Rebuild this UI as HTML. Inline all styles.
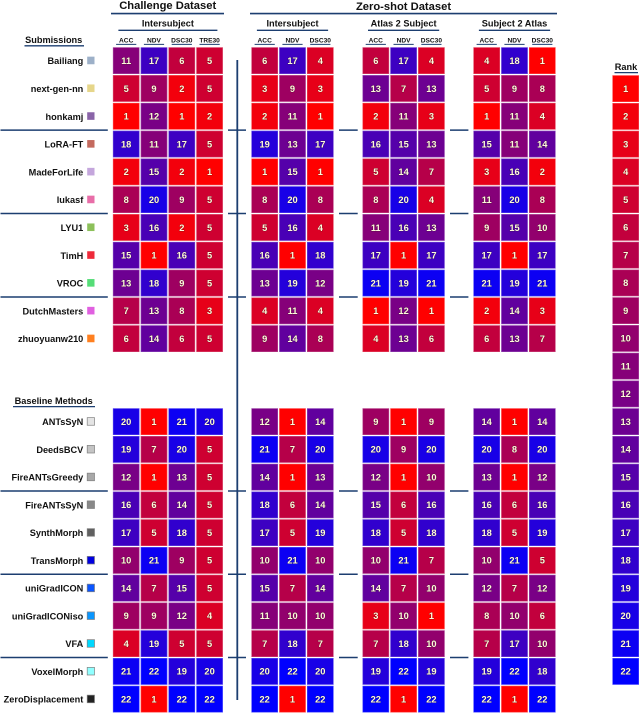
<!DOCTYPE html>
<html lang="en">
<head>
<meta charset="utf-8">
<title>Challenge and Zero-shot Dataset Rankings</title>
<style>
html,body{margin:0;padding:0;background:#fff;width:640px;height:714px;overflow:hidden}
svg{display:block;filter:blur(.3px)}
text{font-family:"Liberation Sans",sans-serif;font-weight:bold;fill:#111}
.cell-text{fill:#fdf9dc;stroke:rgba(40,30,10,.5);stroke-width:.7px;paint-order:stroke;font-size:9.3px;text-anchor:middle}
.head{text-anchor:middle}
</style>
</head>
<body>
<svg id="chart" width="640" height="714" viewBox="0 0 640 714" xmlns="http://www.w3.org/2000/svg"></svg>
<script>
const methods = ["Bailiang","next-gen-nn","honkamj","LoRA-FT","MadeForLife","lukasf","LYU1","TimH","VROC","DutchMasters","zhuoyuanw210","ANTsSyN","DeedsBCV","FireANTsGreedy","FireANTsSyN","SynthMorph","TransMorph","uniGradICON","uniGradICONiso","VFA","VoxelMorph","ZeroDisplacement"];
const methodColors = ["#9db0c8","#e6d68a","#8a64a8","#c46a5e","#c4a6dc","#e86ea8","#8cc05a","#ee2a3a","#55dd77","#e060e0","#ff8020","#e4e4e4","#c4c4c4","#a8a8a8","#888888","#606060","#0000e0","#0a55ff","#0a96ff","#00d8ff","#90ffff","#222222"];

const challengeAcc   = [11,5,1,18,2,8,3,15,13,7,6,20,19,12,16,17,10,14,9,4,21,22];
const challengeNdv   = [17,9,12,11,15,20,16,1,18,13,14,1,7,1,6,5,21,7,9,19,22,1];
const challengeDsc30 = [6,2,1,17,2,9,2,16,9,8,6,21,20,13,14,18,9,15,12,5,19,22];
const challengeTre30 = [5,5,2,5,1,5,5,5,5,3,5,20,5,5,5,5,5,5,4,5,20,22];

const interAcc   = [6,3,2,19,1,8,5,16,13,4,9,12,21,14,18,17,10,15,11,7,20,22];
const interNdv   = [17,9,11,13,15,20,16,1,19,11,14,1,7,1,6,5,21,7,10,18,22,1];
const interDsc30 = [4,3,1,17,1,8,4,18,12,4,8,14,20,13,14,19,10,14,10,7,20,22];

const atlasAcc   = [6,13,2,16,5,8,11,17,21,1,4,9,20,12,15,18,10,14,3,7,19,22];
const atlasNdv   = [17,7,11,15,14,20,16,1,19,12,13,1,9,1,6,5,21,7,10,18,22,1];
const atlasDsc30 = [4,13,3,13,7,4,13,17,21,1,6,9,20,10,16,18,7,10,1,10,19,22];

const s2aAcc   = [4,5,1,15,3,11,9,17,21,2,6,14,20,13,16,18,10,12,8,7,19,22];
const s2aNdv   = [18,9,11,11,16,20,15,1,19,14,13,1,8,1,6,5,21,7,10,17,22,1];
const s2aDsc30 = [1,8,4,14,2,8,10,17,21,3,7,14,20,12,16,19,5,12,6,10,18,22];

const overallRanks = [1,2,3,4,5,6,7,8,9,10,11,12,13,14,15,16,17,18,19,20,21,22];

const challengeLabels = ["ACC","NDV","DSC30","TRE30"];
const zeroShotLabels = ["ACC","NDV","DSC30"];
const separatorAfter = [2,5,8,13,16,19];

const NAVY = "#1c3e70";
const NS = "http://www.w3.org/2000/svg";
const svg = document.getElementById("chart");
const CELL_W = 26.6, CELL_H = 26.7, PITCH_X = 27.8;

function rowY(i){ return i < 11 ? 47.3 + 27.8 * i : 408.3 + 27.75 * (i - 11); }
function rankY(r){ return 75.3 + 27.75 * (r - 1); }
function colX(panelX, j){ return panelX + PITCH_X * j; }
function rankColor(v){
  const t = (v - 1) / 21;
  const r = Math.round(255 * (1 - t));
  const b = Math.round(255 * t);
  return "rgb(" + r + ",0," + b + ")";
}
function el(tag, attrs, parent){
  const n = document.createElementNS(NS, tag);
  for (const k in attrs) n.setAttribute(k, attrs[k]);
  (parent || svg).appendChild(n);
  return n;
}
function label(str, x, y, size, cls, name, anchor){
  const t = el("text", {x:x, y:y, "font-size":size});
  t.setAttribute("text-anchor", anchor || "middle");
  if (cls) t.setAttribute("class", cls);
  t.textContent = str;
  
  
  return t;
}
function rule(x1, x2, y, w, name){
  const l = el("line", {x1:x1, x2:x2, y1:y, y2:y, stroke:NAVY, "stroke-width":w});
  
  
  return l;
}
function cell(x, y, v, name){
  const g = el("g", {});
  
  
  el("rect", {x:x, y:y, width:CELL_W, height:CELL_H, fill:rankColor(v)}, g);
  el("rect", {x:x+.3, y:y+.3, width:CELL_W-.6, height:CELL_H-.6, fill:"none", stroke:"rgba(255,255,255,.28)", "stroke-width":.6}, g);
  const t = el("text", {x:x + CELL_W/2, y:y + CELL_H/2 + 3.3, "class":"cell-text"}, g);
  t.textContent = v;
}

const panels = [
  {id:"challenge-intersubject", x:112.9, labels:challengeLabels, series:[challengeAcc,challengeNdv,challengeDsc30,challengeTre30], title:"Intersubject"},
  {id:"zero-intersubject", x:251.4, labels:zeroShotLabels, series:[interAcc,interNdv,interDsc30], title:"Intersubject"},
  {id:"atlas-2-subject", x:362.5, labels:zeroShotLabels, series:[atlasAcc,atlasNdv,atlasDsc30], title:"Atlas 2 Subject"},
  {id:"subject-2-atlas", x:473.4, labels:zeroShotLabels, series:[s2aAcc,s2aNdv,s2aDsc30], title:"Subject 2 Atlas"}
];

/* dataset headers */
label("Challenge Dataset", 167.7, 8.8, 11.2, "head", "challenge-dataset-title");
rule(111, 224, 13.6, 1.6, "challenge-dataset-rule");
label("Zero-shot Dataset", 403.5, 9.8, 11.2, "head", "zero-shot-dataset-title");
rule(250, 557, 13.6, 1.6, "zero-shot-dataset-rule");

/* group headers */
label("Submissions", 53.7, 43, 9.2, "head", "submissions-heading");
rule(24.5, 84, 45.8, 1.3, "submissions-underline");
label("Baseline Methods", 53.7, 404, 9.2, "head", "baseline-methods-heading");
rule(13, 95, 406.6, 1.3, "baseline-methods-underline");
label("Rank", 626, 70, 9.2, "head", "rank-heading");
rule(614.5, 638, 72.6, 1.3, "rank-underline");

/* heatmap panels */
panels.forEach(function(p){
  const n = p.labels.length;
  const w = PITCH_X * (n - 1) + CELL_W;
  label(p.title, p.x + w/2, 26.3, 9.2, "head", p.id + "-title");
  rule(p.x + 5.5, p.x + w - 5.5, 30.3, 1.3, p.id + "-underline");
  p.labels.forEach(function(lab, j){
    const x = colX(p.x, j);
    label(lab, x + CELL_W/2, 42.5, 6.6, "head", p.id + "-" + lab.toLowerCase() + "-label");
    rule(x + 3.2, x + CELL_W - 3.2, 44.4, 1, p.id + "-" + lab.toLowerCase() + "-underline");
    p.series[j].forEach(function(v, i){
      cell(x, rowY(i), v, p.id + "-" + lab.toLowerCase() + "-" + methods[i].toLowerCase());
    });
  });
});

/* method labels and swatches */
methods.forEach(function(m, i){
  const cy = rowY(i) + CELL_H/2;
  label(m, 83.3, cy + 3.5, 9.2, "", "method-label-" + m.toLowerCase(), "end");
  const s = el("rect", {x:87.2, y:cy - 4, width:7.3, height:7.6, fill:methodColors[i]});
  if (i >= 11) { s.setAttribute("stroke", "#808080"); s.setAttribute("stroke-width", ".7"); }
  
  
});

/* overall rank column */
overallRanks.forEach(function(r){
  cell(612.4, rankY(r), r, "overall-rank-" + r);
});

/* separators */
separatorAfter.forEach(function(i, k){
  const y = (rowY(i) + CELL_H + rowY(i + 1)) / 2;
  rule(0.5, 107.8, y, 1.5, "group-separator-left-" + k);
  rule(228, 246, y, 1.5, "group-separator-intersubject-" + k);
  rule(339, 357.7, y, 1.5, "group-separator-atlas-" + k);
  rule(450, 468.4, y, 1.5, "group-separator-subject-" + k);
});

/* vertical divider */
const divider = el("line", {x1:237.3, x2:237.3, y1:60, y2:700, stroke:NAVY, "stroke-width":1.8});


</script>
</body>
</html>
